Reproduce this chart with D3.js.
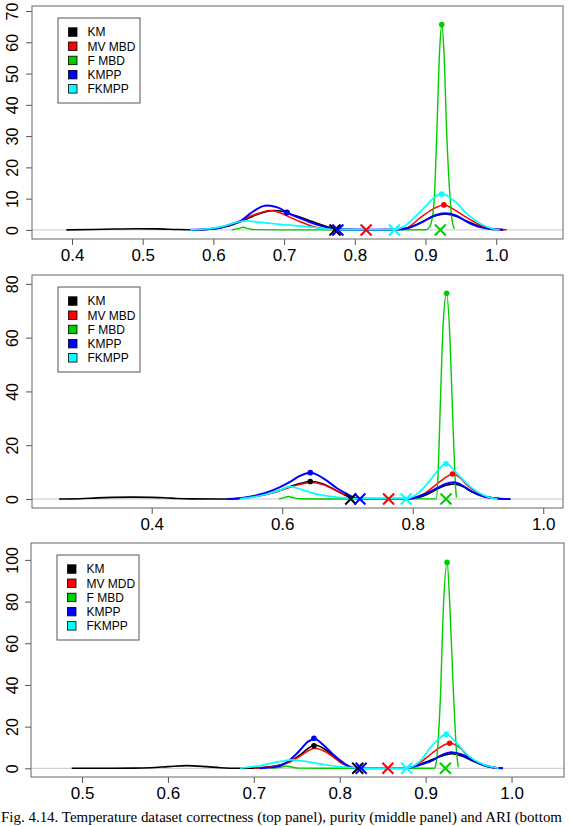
<!DOCTYPE html>
<html>
<head>
<meta charset="utf-8">
<script src="https://cdn.jsdelivr.net/npm/d3@7"></script>
<style>
  body { margin: 0; background: #fff; }
  svg { display: block; }
  .tick text { font-family: "Liberation Sans", Arial, sans-serif; fill: #000; }
  .legend text { font-family: "Liberation Sans", Arial, sans-serif; font-size: 12px; }
  .caption { font-family: "Liberation Serif", "Times New Roman", serif; font-size: 15px; }
</style>
</head>
<body>
<div class="chart"></div>
<script>
const WIDTH = 570;
const HEIGHT = 826;

// series names and colours (R palette)
var seriesNames = ['KM', 'MV MBD', 'F MBD', 'KMPP', 'FKMPP'];
var seriesNames3 = ['KM', 'MV MDD', 'F MBD', 'KMPP', 'FKMPP'];
var seriesColors = ['#000000', '#ff0000', '#00cd00', '#0000ff', '#00ffff'];

// tick labels
var xTicks1 = [0.4, 0.5, 0.6, 0.7, 0.8, 0.9, 1.0];
var yTicks1 = [0, 10, 20, 30, 40, 50, 60, 70];
var xTicks2 = [0.4, 0.6, 0.8, 1.0];
var yTicks2 = [0, 20, 40, 60, 80];
var xTicks3 = [0.5, 0.6, 0.7, 0.8, 0.9, 1.0];
var yTicks3 = [0, 20, 40, 60, 80, 100];

// ---- top panel: correctness ----
var corrKM = [[0.392,0.02],[0.43,0.12],[0.46,0.3],[0.49,0.4],[0.52,0.35],[0.55,0.12],[0.58,0.05],[0.60,0.3],[0.62,1.2],[0.64,2.8],[0.655,4.3],[0.67,5.6],[0.685,6.2],[0.70,5.8],[0.71,5.0],[0.722,4.1],[0.741,2.6],[0.76,1.1],[0.775,0.3],[0.79,0.1],[0.85,0.05],[0.87,0.3],[0.89,2.0],[0.91,4.2],[0.928,5.1],[0.945,4.2],[0.96,2.6],[0.98,0.9],[1.0,0.2],[1.01,0.05]];
var corrMV = [[0.57,0.02],[0.6,0.4],[0.62,1.3],[0.64,3.0],[0.655,4.6],[0.668,5.6],[0.68,6.2],[0.694,5.5],[0.708,4.1],[0.722,2.7],[0.741,1.1],[0.76,0.25],[0.78,0.05],[0.82,0.02],[0.86,0.1],[0.875,0.8],[0.893,4.0],[0.91,6.6],[0.926,8.0],[0.94,6.6],[0.949,5.3],[0.968,2.7],[0.987,0.7],[1.0,0.2],[1.015,0.03]];
var corrFMBD = [[0.626,0.05],[0.635,0.4],[0.642,0.85],[0.65,0.4],[0.657,0.1],[0.7,0.02],[0.8,0.02],[0.9,0.05],[0.906,1],[0.912,8.5],[0.916,31],[0.92,57.5],[0.923,65.7],[0.926,57.5],[0.93,31],[0.935,9.6],[0.938,2.5],[0.941,0.3]];
var corrKMPP = [[0.567,0.02],[0.59,0.2],[0.61,0.8],[0.625,1.8],[0.638,2.8],[0.652,5.2],[0.664,7.0],[0.675,7.8],[0.686,7.5],[0.694,6.9],[0.704,5.5],[0.722,3.8],[0.741,2.1],[0.76,0.85],[0.772,0.3],[0.79,0.1],[0.83,0.05],[0.86,0.1],[0.875,0.6],[0.897,2.7],[0.913,4.6],[0.928,5.3],[0.943,4.6],[0.958,2.7],[0.977,0.9],[0.995,0.2],[1.01,0.03]];
var corrFKMPP = [[0.567,0.02],[0.59,0.3],[0.61,1.0],[0.625,1.9],[0.638,2.7],[0.647,2.9],[0.66,2.6],[0.677,2.2],[0.694,1.8],[0.72,1.3],[0.741,0.85],[0.76,0.3],[0.78,0.1],[0.82,0.05],[0.854,0.1],[0.87,1.2],[0.883,3.7],[0.902,8.0],[0.913,10.5],[0.923,11.5],[0.939,9.6],[0.958,5.3],[0.977,2.1],[0.996,0.3],[1.005,0.05]];
var corrCross = [0.772, 0.816, 0.921, 0.776, 0.856];
var corrDots = [[0.704,5.6],[0.926,8.0],[0.923,65.7],[0.704,5.5],[0.923,11.5]];

// ---- middle panel: purity ----
var purKM = [[0.258,0.02],[0.29,0.1],[0.316,0.4],[0.34,0.6],[0.37,0.7],[0.40,0.6],[0.42,0.45],[0.438,0.2],[0.46,0.05],[0.50,0.02],[0.53,0.1],[0.556,0.9],[0.586,2.4],[0.612,4.6],[0.628,5.8],[0.643,6.5],[0.663,5.6],[0.684,3.0],[0.70,1.0],[0.707,0.5],[0.72,0.1],[0.78,0.05],[0.80,0.2],[0.82,1.5],[0.837,3.6],[0.85,5.0],[0.863,5.6],[0.877,4.6],[0.891,2.6],[0.91,0.9],[0.93,0.2],[0.95,0.02]];
var purMV = [[0.52,0.02],[0.556,0.8],[0.586,2.3],[0.612,4.4],[0.628,5.5],[0.645,6.1],[0.663,5.3],[0.684,3.0],[0.70,1.2],[0.715,0.3],[0.73,0.05],[0.79,0.05],[0.80,0.3],[0.815,1.6],[0.832,4.6],[0.848,7.6],[0.862,9.3],[0.873,7.8],[0.883,5.2],[0.903,1.9],[0.923,0.4],[0.944,0.03]];
var purFMBD = [[0.595,0.05],[0.603,0.5],[0.609,0.9],[0.617,0.5],[0.625,0.1],[0.66,0.02],[0.75,0.02],[0.836,0.05],[0.839,10],[0.842,33],[0.847,66.6],[0.852,76.5],[0.857,60],[0.862,25.7],[0.866,3.3],[0.867,0.5]];
var purKMPP = [[0.515,0.02],[0.535,0.3],[0.556,1.1],[0.586,3.3],[0.612,6.4],[0.627,8.6],[0.643,9.8],[0.663,7.7],[0.684,4.0],[0.699,1.9],[0.714,0.25],[0.73,0.05],[0.79,0.05],[0.80,0.3],[0.82,2.0],[0.837,4.0],[0.85,5.6],[0.863,6.2],[0.877,4.9],[0.891,2.7],[0.91,0.8],[0.93,0.2],[0.949,0.02]];
var purFKMPP = [[0.535,0.02],[0.55,0.5],[0.571,1.5],[0.597,3.3],[0.612,4.6],[0.632,3.3],[0.648,2.1],[0.67,1.1],[0.70,0.3],[0.73,0.1],[0.791,0.1],[0.80,0.8],[0.811,2.7],[0.827,7.1],[0.84,11],[0.851,13.3],[0.867,9.6],[0.888,4.6],[0.908,1.5],[0.923,0.25],[0.93,0.05]];
var purCross = [0.705, 0.763, 0.851, 0.719, 0.790];
var purDots = [[0.643,6.5],[0.861,9.3],[0.852,76.5],[0.643,9.8],[0.851,13.1]];

// ---- bottom panel: ARI ----
var ariKM = [[0.488,0.02],[0.53,0.05],[0.56,0.1],[0.58,0.3],[0.60,0.8],[0.622,1.3],[0.645,0.8],[0.661,0.3],[0.684,0.05],[0.70,0.1],[0.72,0.8],[0.742,3.2],[0.754,6.4],[0.763,9.5],[0.771,11.2],[0.781,9.6],[0.793,5.9],[0.804,2.1],[0.816,0.3],[0.83,0.05],[0.87,0.05],[0.88,0.3],[0.893,1.8],[0.905,3.8],[0.918,5.8],[0.93,7.0],[0.943,5.8],[0.955,3.5],[0.968,1.4],[0.98,0.3],[0.99,0.02]];
var ariMV = [[0.70,0.02],[0.72,0.7],[0.742,3.0],[0.754,5.8],[0.763,8.3],[0.771,9.6],[0.781,8.4],[0.793,5.3],[0.804,2.0],[0.816,0.3],[0.83,0.05],[0.87,0.05],[0.88,0.3],[0.89,1.8],[0.901,5.1],[0.915,9.6],[0.928,12.0],[0.94,9.8],[0.951,5.1],[0.967,1.6],[0.98,0.4],[0.989,0.03]];
var ariFMBD = [[0.72,0.05],[0.731,0.5],[0.738,1.1],[0.745,0.5],[0.752,0.1],[0.8,0.02],[0.91,0.05],[0.912,2],[0.917,32],[0.921,80],[0.925,98.8],[0.928,80],[0.932,40],[0.936,8],[0.938,0.5]];
var ariKMPP = [[0.707,0.02],[0.727,0.8],[0.742,4.0],[0.754,8.8],[0.763,12.8],[0.771,14.1],[0.781,11.2],[0.793,6.4],[0.804,2.7],[0.816,0.3],[0.83,0.05],[0.87,0.05],[0.88,0.3],[0.893,1.6],[0.905,3.2],[0.918,6.2],[0.93,7.7],[0.943,6.5],[0.955,4.0],[0.967,1.6],[0.979,0.4],[0.99,0.02]];
var ariFKMPP = [[0.684,0.02],[0.707,1.3],[0.73,3.2],[0.744,4.0],[0.762,3.2],[0.785,1.6],[0.808,0.5],[0.83,0.1],[0.878,0.1],[0.885,1.0],[0.893,3.2],[0.905,9.6],[0.915,14],[0.924,16.4],[0.936,12],[0.951,5.6],[0.967,1.9],[0.979,0.5],[0.985,0.05]];
var ariCross = [0.821, 0.856, 0.923, 0.825, 0.878];
var ariDots = [[0.770,10.8],[0.928,12.0],[0.925,98.8],[0.770,14.4],[0.924,16.4]];

var panels = [
    {box: [32, 6, 563, 239], xDomain: [0.3434, 1.0945], yDomain: [-2.9, 71.6],
     xTicks: xTicks1, yTicks: yTicks1, names: seriesNames,
     curves: [corrKM, corrMV, corrFMBD, corrKMPP, corrFKMPP], cross: corrCross, dots: corrDots},
    {box: [32, 275, 563, 508], xDomain: [0.2165, 1.0303], yDomain: [-3.35, 83.3],
     xTicks: xTicks2, yTicks: yTicks2, names: seriesNames,
     curves: [purKM, purMV, purFMBD, purKMPP, purFKMPP], cross: purCross, dots: purDots},
    {box: [31, 543, 564, 777], xDomain: [0.4406, 1.0611], yDomain: [-4.17, 108.1],
     xTicks: xTicks3, yTicks: yTicks3, names: seriesNames3,
     curves: [ariKM, ariMV, ariFMBD, ariKMPP, ariFKMPP], cross: ariCross, dots: ariDots}
];

var lineWidths = [1.6, 1.5, 1.4, 2, 1.7];

var svg = d3.select('.chart').append('svg')
    .attr('width', WIDTH)
    .attr('height', HEIGHT);

function drawPanel(p) {
    var x = d3.scaleLinear().domain(p.xDomain).range([p.box[0], p.box[2]]);
    var y = d3.scaleLinear().domain(p.yDomain).range([p.box[3], p.box[1]]);
    var g = svg.append('g');

    // axes
    var xAxis = d3.axisBottom(x).tickValues(p.xTicks).tickSize(6).tickPadding(4)
        .tickFormat(d3.format('.1f'));
    var xg = g.append('g').attr('transform', 'translate(0,' + p.box[3] + ')').call(xAxis);
    xg.select('.domain').remove();
    xg.selectAll('.tick line').attr('stroke', '#555');
    xg.selectAll('.tick text').style('font-size', '17px');

    var yAxis = d3.axisLeft(y).tickValues(p.yTicks).tickSize(6).tickFormat(d3.format('d'));
    var yg = g.append('g').attr('transform', 'translate(' + p.box[0] + ',0)').call(yAxis);
    yg.select('.domain').remove();
    yg.selectAll('.tick line').attr('stroke', '#555');
    yg.selectAll('.tick text')
        .style('font-size', '16px')
        .attr('x', null).attr('dy', null)
        .attr('text-anchor', 'middle')
        .attr('transform', 'translate(' + (-p.box[0] + 17.5) + ',0) rotate(-90)');

    // zero line
    g.append('line')
        .attr('x1', p.box[0]).attr('x2', p.box[2])
        .attr('y1', y(0)).attr('y2', y(0))
        .attr('stroke', '#c8c8c8').attr('stroke-width', 1);

    var line = d3.line()
        .x(function (d) { return x(d[0]); })
        .y(function (d) { return y(d[1]); })
        .curve(d3.curveMonotoneX);

    var lines = g.append('g');
    p.curves.forEach(function (c, i) {
        lines.append('path')
            .attr('d', line(c))
            .attr('fill', 'none')
            .attr('stroke', seriesColors[i])
            .attr('stroke-width', lineWidths[i])
            .attr('stroke-linejoin', 'round');
    });

    // peak dots
    p.dots.forEach(function (d, i) {
        g.append('circle')
            .attr('cx', x(d[0])).attr('cy', y(d[1])).attr('r', 2.8)
            .attr('fill', seriesColors[i]);
    });

    // crosses at the baseline
    var s = 5.5;
    p.cross.forEach(function (v, i) {
        var cx = x(v), cy = y(0);
        g.append('path')
            .attr('d', 'M' + (cx - s) + ',' + (cy - s) + 'L' + (cx + s) + ',' + (cy + s) +
                'M' + (cx - s) + ',' + (cy + s) + 'L' + (cx + s) + ',' + (cy - s))
            .attr('stroke', seriesColors[i])
            .attr('stroke-width', 2);
    });

    // box
    g.append('rect')
        .attr('x', p.box[0]).attr('y', p.box[1])
        .attr('width', p.box[2] - p.box[0]).attr('height', p.box[3] - p.box[1])
        .attr('fill', 'none').attr('stroke', '#666').attr('stroke-width', 1);

    // legend
    var lg = g.append('g').attr('class', 'legend')
        .attr('transform', 'translate(' + (p.box[0] + 26) + ',' + (p.box[1] + 12) + ')');
    lg.append('rect').attr('width', 82).attr('height', 85)
        .attr('fill', '#fff').attr('stroke', '#555');
    p.names.forEach(function (n, i) {
        var yy = 14 + i * 14.2;
        lg.append('rect')
            .attr('x', 10.5).attr('y', yy - 4.2).attr('width', 8.5).attr('height', 8.5)
            .attr('fill', seriesColors[i]).attr('stroke', '#000').attr('stroke-width', 0.8);
        lg.append('text').attr('x', 29.5).attr('y', yy + 4.3).text(n);
    });
}

panels.forEach(drawPanel);

svg.append('text')
    .attr('class', 'caption')
    .attr('x', 1).attr('y', 822)
    .attr('textLength', 561)
    .attr('lengthAdjust', 'spacingAndGlyphs')
    .text('Fig. 4.14. Temperature dataset correctness (top panel), purity (middle panel) and ARI (bottom');
</script>
</body>
</html>
